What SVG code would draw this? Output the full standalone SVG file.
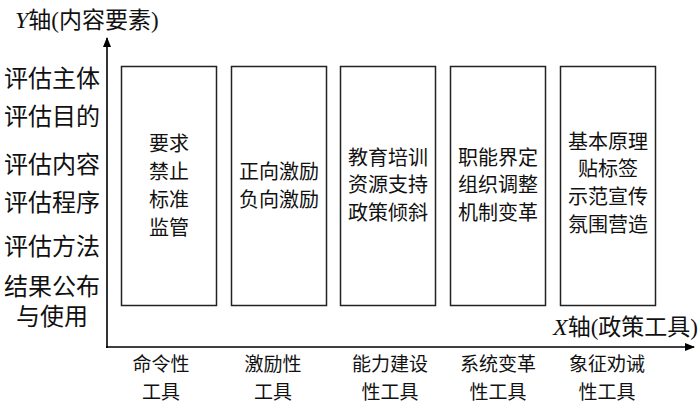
<svg xmlns="http://www.w3.org/2000/svg" width="700" height="414" viewBox="0 0 700 414">
<defs>
<marker id="arr" markerWidth="10" markerHeight="8" refX="9" refY="4" orient="auto" markerUnits="userSpaceOnUse">
<path d="M0,0 L10,4 L0,8 Z" fill="#000"/>
</marker>
<style>
text{font-family:"Liberation Serif","Noto Sans CJK SC",serif;fill:#111;}
.box{fill:#fff;stroke:#222;stroke-width:1.5;}
.bt{font-size:20px;text-anchor:middle;}
.yl{font-size:24px;text-anchor:middle;}
.xl{font-size:19px;text-anchor:middle;}
.ax{stroke:#000;stroke-width:1.6;fill:none;}
</style>
</defs>
<g id="connectors">
<line class="ax" x1="107" y1="348" x2="107" y2="38" marker-end="url(#arr)"/>
<line class="ax" x1="106" y1="347" x2="694" y2="347" marker-end="url(#arr)"/>
</g>
<g id="axis-titles">
<text x="15" y="28" font-size="23"><tspan font-style="italic" font-size="24">Y</tspan>轴(内容要素)</text>
<text x="698" y="335" font-size="23" text-anchor="end"><tspan font-style="italic" font-size="24">X</tspan>轴(政策工具)</text>
</g>
<g id="y-labels">
<text class="yl" x="52" y="87">评估主体</text>
<text class="yl" x="52" y="125">评估目的</text>
<text class="yl" x="52" y="173">评估内容</text>
<text class="yl" x="52" y="211">评估程序</text>
<text class="yl" x="52" y="255">评估方法</text>
<text class="yl" x="52" y="295">结果公布</text>
<text class="yl" x="52" y="325">与使用</text>
</g>
<g id="node1">
<rect class="box" x="121.5" y="66.5" width="95" height="239"/>
<text class="bt" x="169" y="151">要求</text>
<text class="bt" x="169" y="179">禁止</text>
<text class="bt" x="169" y="207">标准</text>
<text class="bt" x="169" y="235">监管</text>
</g>
<g id="node2">
<rect class="box" x="231.5" y="66.5" width="95" height="239"/>
<text class="bt" x="279" y="179">正向激励</text>
<text class="bt" x="279" y="207">负向激励</text>
</g>
<g id="node3">
<rect class="box" x="340.5" y="66.5" width="95" height="239"/>
<text class="bt" x="388" y="165">教育培训</text>
<text class="bt" x="388" y="192">资源支持</text>
<text class="bt" x="388" y="220">政策倾斜</text>
</g>
<g id="node4">
<rect class="box" x="450.5" y="66.5" width="95" height="239"/>
<text class="bt" x="498" y="165">职能界定</text>
<text class="bt" x="498" y="192">组织调整</text>
<text class="bt" x="498" y="220">机制变革</text>
</g>
<g id="node5">
<rect class="box" x="560.5" y="66.5" width="95" height="239"/>
<text class="bt" x="608" y="149">基本原理</text>
<text class="bt" x="608" y="176">贴标签</text>
<text class="bt" x="608" y="204">示范宣传</text>
<text class="bt" x="608" y="232">氛围营造</text>
</g>
<g id="x-labels">
<text class="xl" x="161" y="371">命令性</text>
<text class="xl" x="161" y="399">工具</text>
<text class="xl" x="273" y="371">激励性</text>
<text class="xl" x="273" y="399">工具</text>
<text class="xl" x="390" y="371">能力建设</text>
<text class="xl" x="390" y="399">性工具</text>
<text class="xl" x="498" y="371">系统变革</text>
<text class="xl" x="498" y="399">性工具</text>
<text class="xl" x="607" y="371">象征劝诫</text>
<text class="xl" x="607" y="399">性工具</text>
</g>
</svg>
